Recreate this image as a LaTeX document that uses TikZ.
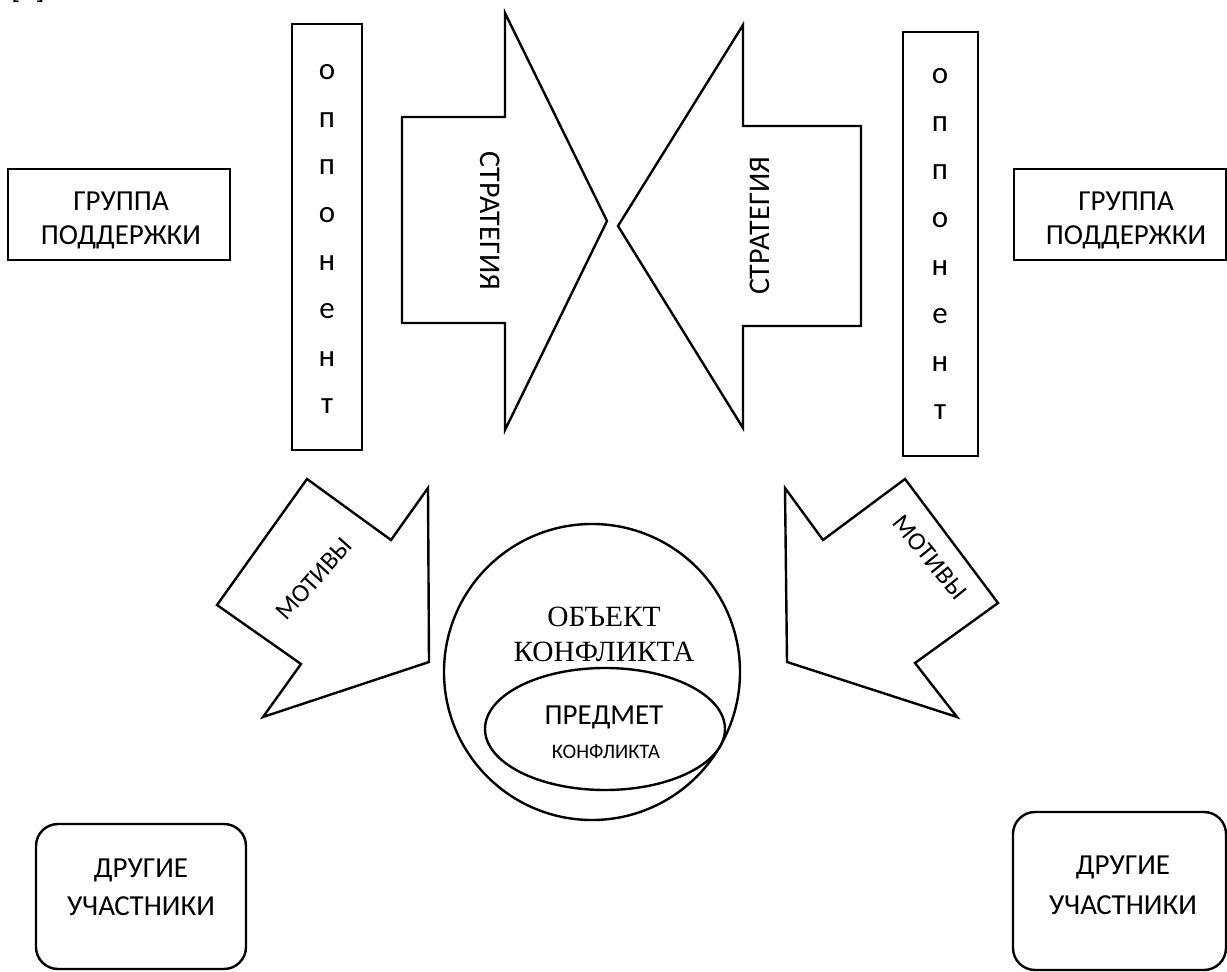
\documentclass[tikz,border=0pt]{standalone}
\usepackage{fontspec}
\setmainfont{Carlito}
\newfontfamily\timesfont{Liberation Serif}
\begin{document}
\begin{tikzpicture}[x=0.5pt,y=-0.5pt,line width=1.2pt,line join=miter,
  shp/.style={draw=black,line width=1.2pt,fill=white},
  txt/.style={inner sep=0pt,align=center,font=\fontsize{14.5}{17}\selectfont},
  letter/.style={inner sep=0pt,font=\fontsize{15.5}{18}\selectfont},
  mot/.style={inner sep=0pt,font=\fontsize{12.8}{14}\selectfont}]
\useasboundingbox (0,0) rectangle (1227,972);
% fragment of a reference mark at the top edge
\node[anchor=base west,inner sep=0pt,font=\fontsize{15}{18}\selectfont] (refmark) at (10,-1) {[1]};
% support groups
\draw[shp] (8,169) rectangle (230,260);
\node[txt] (grpL) at (121,220) {ГРУППА\\ПОДДЕРЖКИ};
\draw[shp] (1014,169) rectangle (1226,260);
\node[txt] (grpR) at (1126,220) {ГРУППА\\ПОДДЕРЖКИ};
% opponents
\draw[shp] (292,24) rectangle (362,450);
\draw[shp] (903,32) rectangle (978,456);
\foreach \ch [count=\i] in {о,п,п,о,н,е,н,т}{
  \node[letter] (oppL\i) at (327,{72+47.8*(\i-1)}) {\ch};
  \node[letter] (oppR\i) at (940,{76+48*(\i-1)}) {\ch};
}
% strategy arrows
\draw[shp] (402,117) -- (505,117) -- (505,13) -- (607,221) -- (505,430) -- (505,323) -- (402,323) -- cycle;
\node[txt,rotate=-90,font=\fontsize{15}{18}\selectfont] (stratL) at (490,221) {СТРАТЕГИЯ};
\draw[shp] (618,226) -- (743,25) -- (743,126) -- (861,126) -- (861,326) -- (743,326) -- (743,428) -- cycle;
\node[txt,rotate=90,font=\fontsize{15}{18}\selectfont] (stratR) at (760,226) {СТРАТЕГИЯ};
% motives arrows
\draw[shp] (307,479) -- (391,540) -- (428,488) -- (429,662) -- (263,717) -- (301,664) -- (217,605) -- cycle;
\node[mot,rotate=48] (motL) at (314,579) {МОТИВЫ};
\draw[shp] (785,488) -- (823,540) -- (905,479) -- (998,603) -- (915,663) -- (957,717) -- (787,662) -- cycle;
\node[mot,rotate=-51] (motR) at (930,557) {МОТИВЫ};
% object and subject of conflict
\draw[shp] (592,672) circle [x radius=148, y radius=148];
\node[txt,font=\timesfont\fontsize{14.7}{17.5}\selectfont] (obj) at (604,634) {ОБЪЕКТ\\КОНФЛИКТА};
\draw[shp] (605,729) ellipse [x radius=120, y radius=61];
\node[txt] (subj) at (604,717) {ПРЕДМЕТ};
\node[txt,font=\fontsize{10.3}{12}\selectfont] (subj2) at (606,752) {КОНФЛИКТА};
% other participants
\draw[shp,rounded corners=11pt] (36,824) rectangle (246,969);
\node[txt,font=\fontsize{14.5}{19}\selectfont] (othL) at (141,887) {ДРУГИЕ\\УЧАСТНИКИ};
\draw[shp,rounded corners=11pt] (1013,812) rectangle (1226,970);
\node[txt,font=\fontsize{14.5}{20}\selectfont] (othR) at (1123,885) {ДРУГИЕ\\УЧАСТНИКИ};
\end{tikzpicture}
\end{document}
